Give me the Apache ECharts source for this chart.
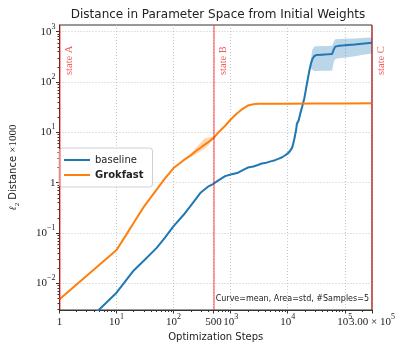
<!DOCTYPE html>
<html><head><meta charset="utf-8">
<script src="https://cdn.jsdelivr.net/npm/echarts@6/dist/echarts.min.js"></script>
<style>html,body{margin:0;padding:0;background:#fff}#c{width:411px;height:351px}</style>
</head><body><div id="c"></div>
<script>
const baselineSteps = [1,10,20,30,50,70,100,150,200,300,400,500,600,800,1000,1300,1600,2000,2500,3000,3500,4000,5000,6000,7000,8000,9000,10000,11000,12000,13000,14000,14500,15500,16500,18000,19500,21000,22500,24000,25500,27000,29000,32000,40000,50000,60000,64000,68000,80000,100000,150000,200000,300000];
const baselineMean = [0.00052,0.0065,0.018,0.028,0.05,0.08,0.137,0.23,0.35,0.64,0.83,0.95,1.1,1.35,1.45,1.55,1.75,2.0,2.1,2.25,2.4,2.45,2.65,2.8,3.0,3.2,3.5,3.8,4.3,5.0,7.2,11,15,17,23,33,47,75,115,170,230,285,325,345,350,355,362,440,505,525,535,555,575,600];
const baselineBandSteps = [9000,10000,11000,12000,13000,14000,14500,15500,16500,18000,19500,21000,22500,24000,25500,27000,29000,32000,40000,50000,60000,64000,68000,80000,100000,150000,200000,300000];
const baselineLow = [3.3,3.5,3.9,4.4,6.2,9.5,13,15,20,29,41,65,100,145,190,175,165,165,167,168,170,250,285,295,305,325,345,370];
const baselineHigh = [3.7,4.1,4.7,5.7,8.4,12.5,17,19,26,37,53,85,130,200,280,440,500,515,520,522,525,620,705,715,725,735,750,765];

const grokSteps = [1,10,15,20,30,50,70,100,150,200,250,300,350,400,450,500,600,800,1000,1300,1600,2000,2500,3000,5000,10000,30000,100000,300000];
const grokMean = [0.0048,0.046,0.095,0.16,0.33,0.72,1.2,1.95,2.8,3.5,4.3,5.0,5.7,6.3,7.0,7.7,9.8,13.5,18,24,29,34,36.2,36.8,37,37.2,37.4,37.6,38];
const grokBandSteps = [150,200,250,300,350,400,450,500,600];
const grokLow = [2.7,3.2,3.7,4.2,4.7,5.4,6.5,7.3,9.5];
const grokHigh = [2.9,3.8,5.0,6.3,7.6,7.9,8.0,8.2,10.1];

const xTickValues = [1,10,100,500,1000,10000,100000,299999.9];
const xLabelValues = [1,10,100,500,1000,10000,100000];
const xEndLabelValues = [299999.9];
const yTickValues = [0.01,0.1,1,10,100,1000];
const stateSteps = [1,500,300000];
const stateNames = ['state A','state B','state C'];
const seriesNames = ['baseline','Grokfast'];
const titleText = 'Distance in Parameter Space from Initial Weights';
const noteText = 'Curve=mean, Area=std, #Samples=5';

const X_MIN = 1, X_MAX = 300000, Y_MIN = 0.00295, Y_MAX = 1358;

function minorTicks(lo, hi){
  const out = [];
  for (let e = -4; e <= 6; e++) for (let k = 2; k <= 9; k++) {
    const v = k * Math.pow(10, e);
    if (v > lo && v < hi) out.push(v);
  }
  return out;
}
const zip = (a, b) => a.map((v, i) => [v, b[i]]);

function expLabel(v){
  if (Math.abs(v - 1) < 1e-9) return '{n|1}';
  if (Math.abs(v - 500) < 1e-6) return '{n|500}';
  if (Math.abs(v - 300000) < 1) return '{n|3.00 × 10}{s|5}';
  const e = Math.round(Math.log10(v));
  return '{n|10}{s|' + (e < 0 ? '−' + (-e) : e) + '}';
}
const tickRich = {
  n: {fontFamily: 'Liberation Serif', fontSize: 11, color: '#222', lineHeight: 18},
  s: {fontFamily: 'Liberation Serif', fontSize: 8, color: '#222', verticalAlign: 'top', lineHeight: 8}
};
const gridLine = {show: true, lineStyle: {color: '#b8b8b8', width: 0.8, type: [1, 2]}};
const axisLineStyle = {show: true, lineStyle: {color: '#333', width: 1}};

function bandSeries(steps, lo, hi, color){
  return {
    type: 'custom', silent: true, z: 1, clip: true,
    data: steps.map((s, i) => [s, lo[i], hi[i]]),
    encode: {x: 0, y: [1, 2]},
    renderItem: (params, api) => {
      if (params.dataIndex !== 0) return null;
      const top = steps.map((s, i) => api.coord([s, hi[i]]));
      const bot = steps.map((s, i) => api.coord([s, lo[i]])).reverse();
      return {type: 'polygon', shape: {points: top.concat(bot)}, style: {fill: color}};
    }
  };
}

const chart = echarts.init(document.getElementById('c'), null, {renderer: 'canvas'});
const option = {
  animation: false,
  backgroundColor: '#fff',
  title: {text: titleText, left: 213, textAlign: 'center', top: 4,
    textStyle: {fontFamily: 'DejaVu Sans', fontSize: 12, fontWeight: 'normal', color: '#222'}},
  grid: {left: 54, right: 39, top: 25, bottom: 41, show: true, borderColor: '#333', borderWidth: 1},
  legend: {
    data: seriesNames, orient: 'vertical', left: 59, top: 148,
    icon: 'rect', itemWidth: 26, itemHeight: 2, itemGap: 3, padding: [6, 9, 6, 5],
    borderColor: '#d0d0d0', borderWidth: 1, borderRadius: 3, backgroundColor: 'rgba(255,255,255,0.85)',
    textStyle: {fontFamily: 'DejaVu Sans', fontSize: 10, color: '#222', lineHeight: 12,
      rich: {b: {fontFamily: 'DejaVu Sans', fontSize: 10, fontWeight: 'bold', color: '#222', lineHeight: 12}}},
    formatter: n => n === 'Grokfast' ? '{b|Grokfast}' : n
  },
  xAxis: [{
    type: 'log', logBase: 10, min: X_MIN, max: X_MAX,
    axisLine: axisLineStyle,
    axisTick: {show: true, customValues: xTickValues, length: 3.5, lineStyle: {color: '#333'}},
    axisLabel: {customValues: xLabelValues, formatter: expLabel, rich: tickRich, margin: 3,
      showMinLabel: true, hideOverlap: false},
    splitLine: gridLine,
    name: 'Optimization Steps', nameLocation: 'middle', nameGap: 21,
    nameTextStyle: {fontFamily: 'DejaVu Sans', fontSize: 10, color: '#222'}
  }, {
    type: 'log', logBase: 10, min: X_MIN, max: X_MAX, position: 'bottom',
    axisLine: {show: false},
    axisTick: {show: true, customValues: minorTicks(X_MIN, X_MAX), length: 2, lineStyle: {color: '#333'}},
    axisLabel: {show: true, customValues: xEndLabelValues, formatter: expLabel, rich: tickRich, margin: 3},
    splitLine: {show: false}
  }],
  yAxis: [{
    type: 'log', logBase: 10, min: Y_MIN, max: Y_MAX,
    axisLine: axisLineStyle,
    axisTick: {show: true, customValues: yTickValues, length: 3.5, lineStyle: {color: '#333'}},
    axisLabel: {customValues: yTickValues, formatter: expLabel, rich: tickRich, margin: 4},
    splitLine: gridLine,
    name: '{l|ℓ}{sub|2}{t| Distance }{m|×1000}', nameLocation: 'middle', nameGap: 39,
    nameTextStyle: {rich: {
      l: {fontFamily: 'DejaVu Serif', fontStyle: 'italic', fontSize: 10, color: '#222', lineHeight: 14},
      sub: {fontFamily: 'Liberation Serif', fontSize: 7, color: '#222', verticalAlign: 'bottom', lineHeight: 7},
      t: {fontFamily: 'DejaVu Sans', fontSize: 10, color: '#222', lineHeight: 14},
      m: {fontFamily: 'Liberation Serif', fontSize: 11, color: '#222', lineHeight: 14}
    }}
  }, {
    type: 'log', logBase: 10, min: Y_MIN, max: Y_MAX, position: 'left',
    axisLine: {show: false},
    axisTick: {show: true, customValues: minorTicks(Y_MIN, Y_MAX), length: 2, lineStyle: {color: '#333'}},
    axisLabel: {show: false}, splitLine: {show: false}
  }],
  series: [
    bandSeries(baselineBandSteps, baselineLow, baselineHigh, 'rgba(31,119,180,0.3)'),
    bandSeries(grokBandSteps, grokLow, grokHigh, 'rgba(255,127,14,0.3)'),
    {name: 'baseline', type: 'line', data: zip(baselineSteps, baselineMean), symbol: 'none',
      color: '#1f77b4', lineStyle: {color: '#1f77b4', width: 2}, z: 3},
    {name: 'Grokfast', type: 'line', data: zip(grokSteps, grokMean), symbol: 'none',
      color: '#ff7f0e', lineStyle: {color: '#ff7f0e', width: 2}, z: 3,
      markLine: {silent: true, symbol: 'none', label: {show: false}, animation: false,
        lineStyle: {color: 'rgba(255,0,0,0.5)', width: 1.5, type: 'solid'},
        data: stateSteps.map(s => ({xAxis: s}))}}
  ]
};
chart.setOption(option);

const graphics = [{
  type: 'text', right: 42, top: 295,
  style: {text: noteText, font: '8px "DejaVu Sans"', fill: '#222'}
}];
stateSteps.forEach((s, i) => {
  const px = chart.convertToPixel({xAxisIndex: 0}, s);
  graphics.push({
    type: 'text', x: px + 9.5, y: 75, rotation: Math.PI / 2,
    style: {text: stateNames[i], font: '10.5px "Liberation Serif"', fill: '#f25c5c',
      textAlign: 'left', textVerticalAlign: 'middle'}
  });
});
chart.setOption({graphic: graphics});
</script></body></html>
